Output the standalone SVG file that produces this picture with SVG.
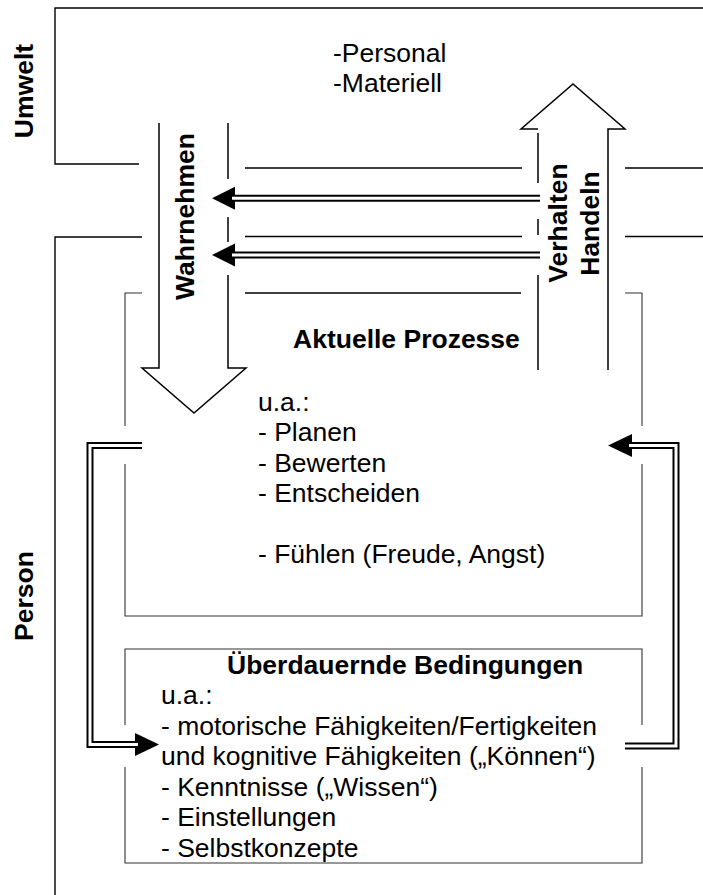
<svg xmlns="http://www.w3.org/2000/svg" width="703" height="895" viewBox="0 0 703 895">
<style>
.fr{stroke:#000;stroke-width:1.4;fill:none}
.bx{stroke:#333;stroke-width:1.1;fill:none}
.ar{stroke:#000;stroke-width:1.5;fill:none;stroke-linejoin:miter}
.db{stroke:#000;stroke-width:7;fill:none;stroke-linejoin:miter}
.dw{stroke:#fff;stroke-width:3;fill:none;stroke-linejoin:miter}
.hd{fill:#000;stroke:none}
text{font-family:"Liberation Sans",Arial,sans-serif;font-size:26.5px;fill:#000}
.b{font-weight:bold}
</style>
<rect width="703" height="895" fill="#fff"/>
<g id="frame">
<path class="fr" d="M703,8 H55 V164 H139"/>
<path class="fr" d="M142,237 H55 V895"/>
<path class="fr" d="M245,168 H522 M625,168 H703"/>
<path class="fr" d="M245,236.5 H522 M625,236.5 H703"/>
<path class="fr" d="M245,293 H521"/>
<text class="b" transform="translate(33,91) rotate(-90)" text-anchor="middle">Umwelt</text>
<text class="b" transform="translate(33,596) rotate(-90)" text-anchor="middle">Person</text>
<text x="333" y="62">-Personal</text>
<text x="333" y="92">-Materiell</text>
</g>
<g id="wahrnehmen">
<path class="ar" d="M159,123 V368 H142 L194,413 L246,368 H228 V275"/>
<path class="ar" d="M228,123 V179 M228,217 V242"/>
<text class="b" transform="translate(194,216.5) rotate(-90)" text-anchor="middle">Wahrnehmen</text>
</g>
<g id="verhalten">
<path class="ar" d="M538,129 H521 L573,84 L625,129 H608 V370"/>
<path class="ar" d="M538,133 V183 M538,219 V235 M538,275 V370"/>
<text class="b" transform="translate(567,223) rotate(-90)" text-anchor="middle">Verhalten</text>
<text class="b" transform="translate(599,223.5) rotate(-90)" text-anchor="middle">Handeln</text>
</g>
<g id="aktuelle">
<path class="bx" d="M142,293 H125 V426 M125,464 V616 H642 V464 M642,426 V293 H625"/>
<text class="b" x="293" y="348">Aktuelle Prozesse</text>
<text x="258" y="411">u.a.:</text>
<text x="258" y="441.3">- Planen</text>
<text x="258" y="471.6">- Bewerten</text>
<text x="258" y="501.9">- Entscheiden</text>
<text x="258" y="562.5">- Fühlen (Freude, Angst)</text>
</g>
<g id="ueberdauernde">
<path class="bx" d="M125,725 V649 H642 V725 M642,767 V863 H125 V767"/>
<text class="b" x="227" y="673.5">Überdauernde Bedingungen</text>
<text x="161" y="704">u.a.:</text>
<text x="161" y="734.5">- motorische Fähigkeiten/Fertigkeiten</text>
<text x="161" y="765">und kognitive Fähigkeiten („Können“)</text>
<text x="161" y="795.5">- Kenntnisse („Wissen“)</text>
<text x="161" y="826">- Einstellungen</text>
<text x="161" y="856.5">- Selbstkonzepte</text>
</g>
<g id="connectors">
<polygon class="hd" points="212,198.3 235,186.8 235,209.8"/>
<path class="db" d="M232,198.3 H540"/>
<path class="dw" d="M232,198.3 H540"/>
<polygon class="hd" points="212,255 235,243.5 235,266.5"/>
<path class="db" d="M232,255 H540"/>
<path class="dw" d="M232,255 H540"/>
<polygon class="hd" points="608,445.5 632,434 632,457"/>
<path class="db" d="M629,445.5 H676 V746 H625"/>
<path class="dw" d="M629,445.5 H676 V746 H625"/>
<polygon class="hd" points="159,744.5 135,733 135,756"/>
<path class="db" d="M142,445.5 H90 V744.5 H138"/>
<path class="dw" d="M142,445.5 H90 V744.5 H138"/>
</g>
</svg>
